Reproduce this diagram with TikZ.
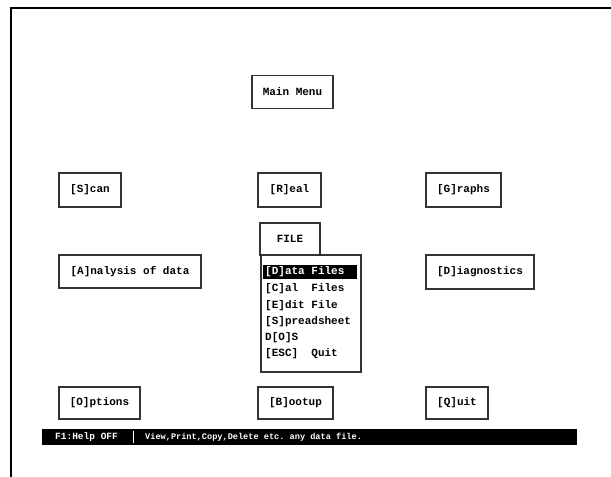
\documentclass[tikz,border=0pt]{standalone}
\usepackage{fontspec}
\setmonofont{Liberation Mono}
\begin{document}
\begin{tikzpicture}[x=1pt,y=-1pt,
  font=\ttfamily\bfseries\fontsize{11}{12}\selectfont,
  box/.style={draw=black!80, line width=1.3pt, inner sep=0pt, align=center},
  item/.style={anchor=west, inner sep=0pt, text=black},
  bartext/.style={anchor=west, inner sep=0pt, text=white, font=\ttfamily\bfseries\fontsize{9.5}{10}\selectfont},
  msgtext/.style={anchor=west, inner sep=0pt, text=white, font=\ttfamily\bfseries\fontsize{8.6}{10}\selectfont}]
\useasboundingbox (0,0) rectangle (611,477);
\fill[white] (0,0) rectangle (611,477);
% page frame
\coordinate (ftl) at (11,8);
\coordinate (ftr) at (611,8);
\coordinate (fbl) at (11,477);
\draw[line width=2pt, black] (fbl) -- (ftl) -- (ftr);
% main boxes
\node[box, minimum width=81, minimum height=33] (main) at (292.5,92) {Main Menu};
\node[box, minimum width=62, minimum height=34] (scan) at (90,190) {[S]can};
\node[box, minimum width=63, minimum height=34] (real) at (289.5,190) {[R]eal};
\node[box, minimum width=75, minimum height=34] (graphs) at (463.5,190) {[G]raphs};
\node[box, minimum width=142, minimum height=33] (analysis) at (130,271.5) {[A]nalysis of data};
\node[box, minimum width=108, minimum height=34] (diag) at (480,272) {[D]iagnostics};
\node[box, minimum width=81, minimum height=32] (options) at (99.5,403) {[O]ptions};
\node[box, minimum width=75, minimum height=32] (bootup) at (295.5,403) {[B]ootup};
\node[box, minimum width=62, minimum height=32] (quit) at (457,403) {[Q]uit};
% file menu
\node[box, minimum width=60, minimum height=32] (filetab) at (290,239) {FILE};
\node[box, minimum width=100, minimum height=117] (menu) at (311,313.5) {};
\fill[black] (263,265) rectangle (357,279);
\node[item, text=white] (i1) at (265,272) {[D]ata Files};
\node[item] (i2) at (265,289) {[C]al\ \ Files};
\node[item] (i3) at (265,306) {[E]dit File};
\node[item] (i4) at (265,322) {[S]preadsheet};
\node[item] (i5) at (265,338) {D[O]S};
\node[item] (i6) at (265,354) {[ESC]\ \ Quit};
% status bar
\fill[black] (42,429) rectangle (577,445);
\node[bartext] (help) at (55,437) {F1:Help OFF};
\coordinate (sepT) at (133,431);
\coordinate (sepB) at (133,443);
\draw[white, line width=0.8pt] (sepT) -- (sepB);
\node[msgtext] (msg) at (145,437) {View,Print,Copy,Delete etc. any data file.};
\end{tikzpicture}
\end{document}
